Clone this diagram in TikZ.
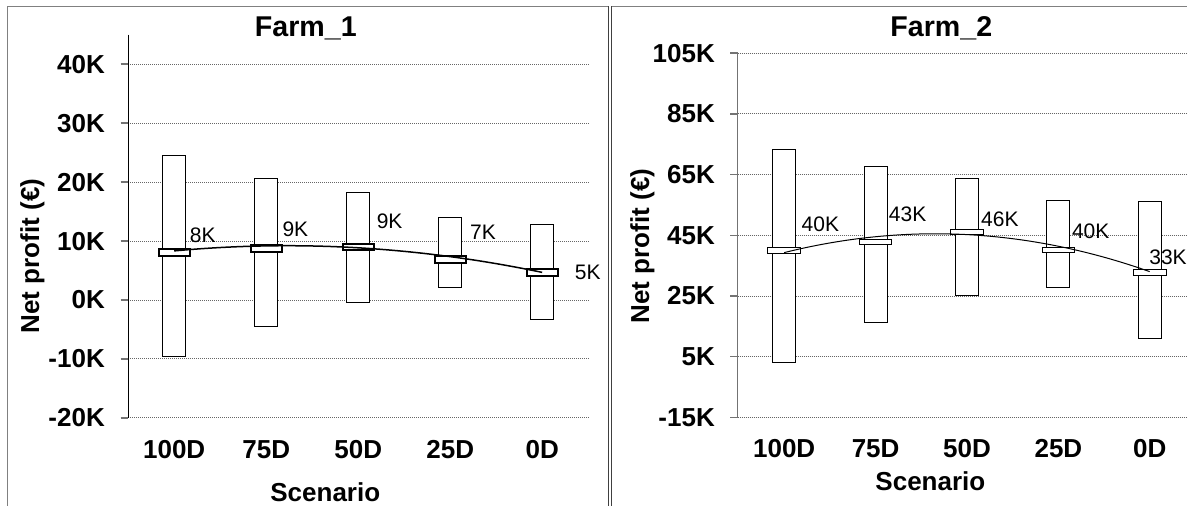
\documentclass[tikz,border=0pt]{standalone}
\usepackage{fontspec}
\setmainfont{Liberation Sans}
\begin{document}
\begin{tikzpicture}[x=1pt,y=-1pt,
  frame/.style={draw=black!50, line width=1pt},
  divider/.style={draw=black!75, line width=1pt},
  gridln/.style={draw=black!60, line width=1pt, dash pattern=on 1pt off 1pt},
  tickln/.style={draw=black!55, line width=1.5pt},
  ticklab/.style={font=\fontsize{26}{26}\selectfont\bfseries, inner sep=0pt, anchor=east},
  catlab/.style={font=\fontsize{26}{26}\selectfont\bfseries, inner sep=0pt},
  axtitle/.style={font=\fontsize{26}{26}\selectfont\bfseries, inner sep=0pt},
  titlelab/.style={font=\fontsize{28.6}{28.6}\selectfont\bfseries, inner sep=0pt, anchor=base},
  vallab/.style={font=\fontsize{21}{21}\selectfont, inner sep=0pt},
  rangebox/.style={draw=black, fill=white, line width=1pt},
  meanboxA/.style={draw=black, fill=white, line width=2pt},
  meanboxB/.style={draw=black, fill=white, line width=1pt},
  trendA/.style={draw=black, line width=1.5pt},
  trendB/.style={draw=black, line width=1pt},
]
\useasboundingbox (0,0) rectangle (1187,506);
\fill[white] (0,0) rectangle (1187,506);

% panel frames
\draw[frame] (7.3,506) -- (7.3,6) -- (608.3,6);
\draw[frame] (611.7,6) -- (1187,6);
\draw[divider] (608.3,6) -- (608.3,506);
\draw[divider] (611.7,6) -- (611.7,506);

% ================= Farm_1 =================
\node[titlelab] (T1) at (305.8,36.3) {Farm\_1};
\foreach \v/\t [count=\i] in {40/40K,30/30K,20/20K,10/10K,0/0K,-10/-10K,-20/-20K} {
  \pgfmathsetmacro\yy{300-5.895*\v}
  \draw[gridln] (128.2,\yy) -- (588.3,\yy);
  \draw[tickln] (120.7,\yy) -- (128.2,\yy);
  \node[ticklab] (Ltick\i) at (105,\yy) {\t};
}
\draw[black, line width=1pt] (128.2,34.7) -- (128.2,417.9);

\foreach \t/\b [count=\i] in {24.5/-9.5, 20.6/-4.5, 18.3/-0.4, 14.0/2.1, 12.8/-3.3} {
  \pgfmathsetmacro\xc{174.2+92*(\i-1)}
  \pgfmathsetmacro\yt{300-5.895*\t}
  \pgfmathsetmacro\yb{300-5.895*\b}
  \draw[rangebox] ({\xc-11.5},\yt) rectangle ({\xc+11.5},\yb);
}
\foreach \m [count=\i] in {8.06, 8.75, 9.0, 6.9, 4.66} {
  \pgfmathsetmacro\xc{174.2+92*(\i-1)}
  \pgfmathsetmacro\ym{300-5.895*\m}
  \draw[meanboxA] ({\xc-15.5},{\ym-3.2}) rectangle ({\xc+15.5},{\ym+3.2});
}
\draw[trendA] plot[domain=-2:2, samples=41, smooth] ({358.2+92*\x},{247.8+5.37*\x+3.46*\x*\x});

\node[vallab] (Lv1) at (202.8,235) {8K};
\node[vallab] (Lv2) at (295.4,229.3) {9K};
\node[vallab] (Lv3) at (389.6,221.7) {9K};
\node[vallab] (Lv4) at (483,232.3) {7K};
\node[vallab] (Lv5) at (587.7,272.7) {5K};

\foreach \t [count=\i] in {100D,75D,50D,25D,0D} {
  \node[catlab] (Lcat\i) at ({174.2+92*(\i-1)},450) {\t};
}
\node[catlab] (Lxtitle) at (325.3,492.5) {Scenario};
\node[axtitle, rotate=90] (Lytitle) at (32.5,256) {Net profit (€)};

% ================= Farm_2 =================
\node[titlelab] (T2) at (941.3,36.3) {Farm\_2};
\foreach \v/\t [count=\i] in {105/105K,85/85K,65/65K,45/45K,25/25K,5/5K,-15/-15K} {
  \pgfmathsetmacro\yy{296-3.035*(\v-25)}
  \draw[gridln] (737.7,\yy) -- (1187,\yy);
  \draw[tickln] (730.1,\yy) -- (737.7,\yy);
  \node[ticklab] (Rtick\i) at (715,\yy) {\t};
}
\draw[black!55, line width=1pt] (737.7,53.2) -- (737.7,417.4);

\foreach \t/\b [count=\i] in {73.3/3.2, 67.6/16.4, 63.6/25.2, 56.4/27.7, 56.1/11.1} {
  \pgfmathsetmacro\xc{784.2+91.4*(\i-1)}
  \pgfmathsetmacro\yt{296-3.035*(\t-25)}
  \pgfmathsetmacro\yb{296-3.035*(\b-25)}
  \draw[rangebox] ({\xc-11.5},\yt) rectangle ({\xc+11.5},\yb);
}
\foreach \m [count=\i] in {39.9, 42.8, 46.1, 40.2, 32.7} {
  \pgfmathsetmacro\xc{784.2+91.4*(\i-1)}
  \pgfmathsetmacro\ym{296-3.035*(\m-25)}
  \draw[meanboxB] ({\xc-16.25},{\ym-2.85}) rectangle ({\xc+16.25},{\ym+2.85});
}
\draw[trendB] plot[domain=-2:2, samples=41, smooth] ({966.9+91.4*\x},{234.6+4.75*\x+6.88*\x*\x});

\node[vallab] (Rv1) at (820.4,224) {40K};
\node[vallab] (Rv2) at (907.6,214) {43K};
\node[vallab] (Rv3) at (999.9,219) {46K};
\node[vallab] (Rv4) at (1090.7,231.7) {40K};
\node[vallab] (Rv5) at (1168,257.5) {33K};

\foreach \t [count=\i] in {100D,75D,50D,25D,0D} {
  \node[catlab] (Rcat\i) at ({784.2+91.4*(\i-1)},449) {\t};
}
\node[catlab] (Rxtitle) at (930.4,481) {Scenario};
\node[axtitle, rotate=90] (Rytitle) at (642.5,246) {Net profit (€)};
\end{tikzpicture}
\end{document}
